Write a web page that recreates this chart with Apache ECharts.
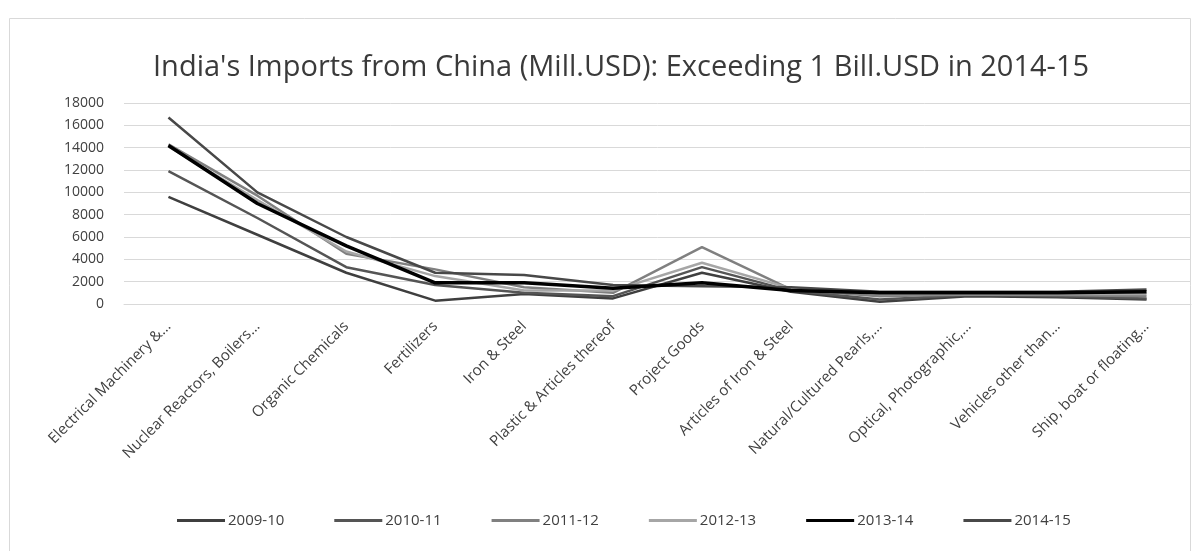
<!DOCTYPE html>
<html>
<head>
<meta charset="utf-8">
<script src="https://cdn.jsdelivr.net/npm/echarts@6/dist/echarts.min.js"></script>
<style>
  html, body { margin: 0; padding: 0; background: #fff; }
  #chart { width: 1199px; height: 551px; }
</style>
</head>
<body>
<div id="chart"></div>
<script>
// Product groups (HS chapters) imported from China
const categories = [
  "Electrical Machinery &…",
  "Nuclear Reactors, Boilers…",
  "Organic Chemicals",
  "Fertilizers",
  "Iron & Steel",
  "Plastic & Articles thereof",
  "Project Goods",
  "Articles of Iron & Steel",
  "Natural/Cultured Pearls,…",
  "Optical, Photographic,…",
  "Vehicles other than…",
  "Ship, boat or floating…"
];

// Imports in million USD, one array per fiscal year
const fy2009_10 = [9600, 6200, 2800, 300, 900, 500, 2800, 1100, 200, 700, 600, 400];
const fy2010_11 = [11900, 7700, 3300, 1700, 1000, 700, 3300, 1200, 400, 800, 700, 500];
const fy2011_12 = [14300, 9700, 4500, 3100, 1500, 1000, 5100, 1300, 700, 850, 800, 700];
const fy2012_13 = [14100, 9300, 4700, 2500, 1200, 1200, 3700, 1400, 900, 900, 900, 900];
const fy2013_14 = [14200, 9000, 5200, 1900, 1900, 1400, 1900, 1200, 1000, 1000, 1000, 1100];
const fy2014_15 = [16700, 10000, 6000, 2800, 2600, 1700, 1600, 1500, 1100, 1100, 1100, 1300];

const yearNames = ["2009-10", "2010-11", "2011-12", "2012-13", "2013-14", "2014-15"];
const yearData = [fy2009_10, fy2010_11, fy2011_12, fy2012_13, fy2013_14, fy2014_15];
const yearColors = ["#3f3f3f", "#555555", "#808080", "#a6a6a6", "#000000", "#484848"];
const yearWidths = [2.5, 2.5, 2.5, 2.5, 3.5, 2.5];

const chart = echarts.init(document.getElementById("chart"), null, { renderer: "canvas" });

chart.setOption({
  backgroundColor: "#ffffff",
  animation: false,
  graphic: [{
    type: "rect",
    shape: { x: 9.5, y: 18.5, width: 1181, height: 560 },
    style: { fill: "none", stroke: "#d9d9d9", lineWidth: 1 },
    silent: true
  }],
  title: {
    text: "India's Imports from China (Mill.USD): Exceeding 1 Bill.USD in 2014-15",
    left: 148,
    top: 48,
    textStyle: {
      fontFamily: "Open Sans",
      fontSize: 29,
      fontWeight: "normal",
      color: "#3a3a3a"
    }
  },
  legend: {
    bottom: 18,
    left: 172,
    itemWidth: 48,
    itemHeight: 3,
    itemGap: 50,
    icon: "rect",
    textStyle: { fontFamily: "Open Sans", fontSize: 15, color: "#404040", padding: [0, 0, 0, -2] },
    data: yearNames
  },
  grid: { left: 124, right: 8, top: 103, bottom: 247, containLabel: false },
  xAxis: {
    type: "category",
    data: categories,
    boundaryGap: true,
    axisLine: { lineStyle: { color: "#d9d9d9", width: 1 } },
    axisTick: { show: false },
    axisLabel: {
      rotate: 45,
      interval: 0,
      margin: 20,
      fontFamily: "Open Sans",
      fontSize: 15,
      color: "#404040"
    }
  },
  yAxis: {
    type: "value",
    min: 0,
    max: 18000,
    interval: 2000,
    axisLine: { show: false },
    axisTick: { show: false },
    splitLine: { lineStyle: { color: "#d9d9d9", width: 1 } },
    axisLabel: {
      margin: 20,
      formatter: (v) => String(v),
      fontFamily: "Open Sans",
      fontSize: 14,
      color: "#404040"
    }
  },
  series: yearNames.map((name, i) => ({
    name: name,
    type: "line",
    data: yearData[i],
    symbol: "none",
    smooth: false,
    color: yearColors[i],
    lineStyle: { color: yearColors[i], width: yearWidths[i] },
    z: i === 4 ? 5 : 2
  }))
});
</script>
</body>
</html>
